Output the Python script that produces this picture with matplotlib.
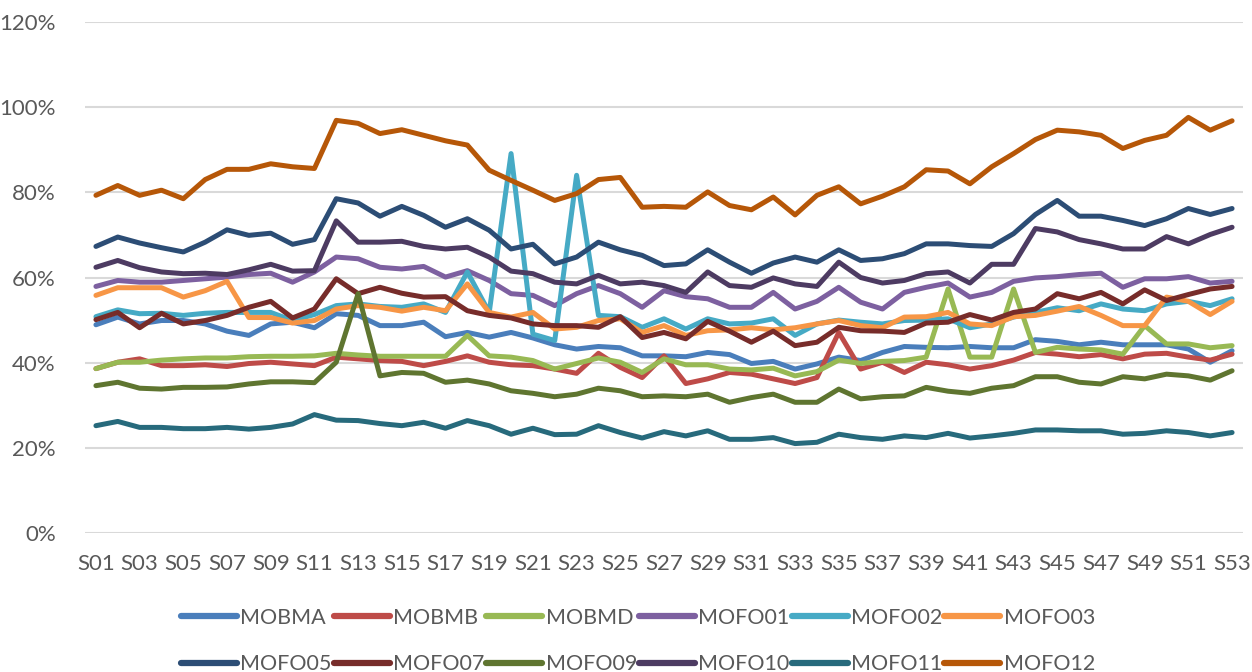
import matplotlib
matplotlib.use("Agg")
import matplotlib.pyplot as plt
from matplotlib.ticker import FuncFormatter

weeks = [f"S{i:02d}" for i in range(1, 54)]

mobma = [48.9, 50.7, 49.1, 49.9, 49.9, 49.1, 47.4, 46.4, 49.1, 49.5,
         48.2, 51.5, 51.1, 48.7, 48.7, 49.5, 46.1, 47.1, 46.0, 47.1,
         45.8, 44.2, 43.2, 43.8, 43.5, 41.6, 41.6, 41.4, 42.4, 41.9,
         39.8, 40.3, 38.5, 39.7, 41.3, 40.5, 42.4, 43.8, 43.6, 43.5,
         43.8, 43.5, 43.5, 45.4, 45.0, 44.2, 44.8, 44.2, 44.2, 44.2,
         43.2, 40.1, 42.8]
mobmb = [38.6, 40.1, 40.9, 39.3, 39.3, 39.5, 39.1, 39.8, 40.1, 39.7,
         39.3, 41.3, 40.9, 40.5, 40.3, 39.3, 40.3, 41.6, 40.1, 39.5,
         39.3, 38.5, 37.5, 42.2, 38.9, 36.5, 41.6, 35.1, 36.2, 37.7,
         37.3, 36.2, 35.1, 36.5, 47.1, 38.5, 40.1, 37.7, 40.1, 39.5,
         38.5, 39.3, 40.6, 42.4, 42.0, 41.4, 41.9, 40.9, 42.0, 42.2,
         41.3, 40.6, 42.0]
mobmd = [38.6, 40.1, 40.1, 40.6, 40.9, 41.1, 41.1, 41.4, 41.5, 41.5,
         41.6, 42.2, 41.8, 41.5, 41.5, 41.5, 41.5, 46.4, 41.6, 41.3,
         40.5, 38.5, 39.8, 41.1, 40.1, 37.7, 40.9, 39.5, 39.5, 38.5,
         38.3, 38.7, 36.9, 37.9, 40.6, 39.8, 40.3, 40.5, 41.3, 57.3,
         41.3, 41.3, 57.3, 42.4, 43.6, 43.2, 43.0, 42.0, 48.7, 44.4,
         44.4, 43.5, 44.0]
mofo01 = [57.9, 59.3, 58.9, 58.9, 59.3, 59.7, 60.1, 60.7, 61.0, 58.9,
          61.3, 64.8, 64.4, 62.4, 62.0, 62.6, 60.1, 61.6, 59.3, 56.2,
          55.8, 53.4, 56.2, 58.1, 56.2, 53.0, 56.9, 55.5, 55.0, 53.0,
          53.0, 56.5, 52.6, 54.4, 57.7, 54.2, 52.6, 56.5, 57.7, 58.7,
          55.4, 56.5, 59.1, 59.9, 60.2, 60.7, 61.0, 57.7, 59.7, 59.7,
          60.2, 58.7, 59.1]
mofo02 = [50.8, 52.4, 51.5, 51.6, 51.1, 51.6, 51.8, 51.8, 51.8, 49.9,
          51.3, 53.4, 53.8, 53.2, 53.0, 53.8, 51.8, 61.3, 51.8, 89.1,
          46.7, 45.2, 84.0, 51.1, 50.8, 48.3, 50.3, 47.9, 50.3, 49.1,
          49.3, 50.3, 46.4, 49.1, 50.0, 49.5, 49.1, 49.9, 50.0, 50.3,
          48.2, 49.1, 50.7, 51.8, 52.9, 52.2, 53.8, 52.6, 52.2, 53.8,
          54.4, 53.4, 55.0]
mofo03 = [55.8, 57.6, 57.6, 57.6, 55.4, 56.9, 59.1, 50.6, 50.6, 49.3,
          49.9, 52.6, 53.4, 53.0, 52.1, 53.0, 52.2, 58.5, 51.8, 50.7,
          51.8, 47.9, 48.3, 49.9, 50.3, 47.1, 48.7, 46.4, 47.5, 47.7,
          48.2, 47.7, 48.2, 49.1, 49.9, 48.7, 48.2, 50.7, 50.8, 51.8,
          49.1, 48.7, 50.8, 51.1, 52.1, 53.2, 51.1, 48.7, 48.7, 55.4,
          54.4, 51.3, 54.4]
mofo05 = [67.3, 69.5, 68.1, 67.0, 66.0, 68.3, 71.2, 69.9, 70.4, 67.8,
          68.9, 78.5, 77.5, 74.4, 76.7, 74.6, 71.8, 73.8, 71.1, 66.7,
          67.8, 63.2, 64.8, 68.3, 66.5, 65.2, 62.8, 63.2, 66.5, 63.6,
          61.0, 63.4, 64.8, 63.6, 66.5, 64.0, 64.4, 65.6, 67.9, 67.9,
          67.5, 67.3, 70.3, 74.8, 78.1, 74.4, 74.4, 73.4, 72.2, 73.8,
          76.2, 74.8, 76.2]
mofo07 = [50.1, 51.8, 48.2, 51.6, 49.1, 49.9, 51.1, 53.0, 54.4, 50.5,
          52.6, 59.7, 56.2, 57.7, 56.3, 55.4, 55.5, 52.2, 51.1, 50.5,
          49.1, 48.7, 48.7, 48.3, 50.8, 45.9, 47.1, 45.6, 49.7, 47.4,
          44.8, 47.4, 44.0, 44.8, 48.3, 47.5, 47.4, 47.1, 49.3, 49.5,
          51.3, 50.0, 51.8, 52.6, 56.2, 55.0, 56.5, 53.8, 57.1, 54.6,
          56.0, 57.3, 57.9]
mofo09 = [34.6, 35.4, 34.0, 33.8, 34.2, 34.2, 34.3, 35.0, 35.5, 35.5,
          35.3, 40.1, 56.2, 36.9, 37.7, 37.5, 35.4, 35.9, 35.0, 33.4,
          32.8, 32.0, 32.6, 34.0, 33.4, 32.0, 32.2, 32.0, 32.6, 30.7,
          31.8, 32.6, 30.7, 30.7, 33.8, 31.5, 32.0, 32.2, 34.2, 33.3,
          32.8, 34.0, 34.6, 36.7, 36.7, 35.4, 35.0, 36.7, 36.2, 37.3,
          36.9, 35.9, 38.1]
mofo10 = [62.4, 64.0, 62.3, 61.3, 60.9, 61.0, 60.7, 61.8, 63.1, 61.5,
          61.6, 73.3, 68.3, 68.3, 68.5, 67.3, 66.7, 67.1, 64.8, 61.5,
          60.9, 58.9, 58.5, 60.5, 58.5, 58.9, 58.1, 56.5, 61.3, 58.1,
          57.7, 59.9, 58.5, 57.9, 63.6, 60.0, 58.7, 59.3, 60.9, 61.3,
          58.7, 63.1, 63.1, 71.5, 70.7, 68.9, 67.9, 66.7, 66.7, 69.6,
          67.9, 70.1, 71.8]
mofo11 = [25.2, 26.2, 24.8, 24.8, 24.5, 24.5, 24.8, 24.4, 24.8, 25.6,
          27.8, 26.5, 26.4, 25.7, 25.2, 26.0, 24.6, 26.4, 25.2, 23.2,
          24.6, 23.1, 23.2, 25.2, 23.6, 22.3, 23.8, 22.8, 24.0, 22.0,
          22.0, 22.4, 21.0, 21.3, 23.2, 22.4, 22.0, 22.8, 22.4, 23.4,
          22.3, 22.8, 23.4, 24.2, 24.2, 24.0, 24.0, 23.2, 23.4, 24.0,
          23.6, 22.8, 23.6]
mofo12 = [79.3, 81.6, 79.3, 80.5, 78.5, 83.0, 85.4, 85.4, 86.7, 86.0,
          85.6, 96.9, 96.2, 93.8, 94.7, 93.4, 92.1, 91.1, 85.2, 82.8,
          80.5, 78.1, 79.7, 83.0, 83.5, 76.5, 76.7, 76.5, 80.1, 76.9,
          75.9, 78.9, 74.7, 79.3, 81.3, 77.3, 79.1, 81.3, 85.3, 85.0,
          82.0, 86.0, 89.1, 92.4, 94.6, 94.2, 93.4, 90.3, 92.2, 93.4,
          97.6, 94.6, 96.8]

series = [
    ("MOBMA", mobma, "#4a7ebb"),
    ("MOBMB", mobmb, "#be4b48"),
    ("MOBMD", mobmd, "#98b954"),
    ("MOFO01", mofo01, "#7d60a0"),
    ("MOFO02", mofo02, "#46aac5"),
    ("MOFO03", mofo03, "#f79646"),
    ("MOFO05", mofo05, "#2c4d75"),
    ("MOFO07", mofo07, "#772c2a"),
    ("MOFO09", mofo09, "#5f7530"),
    ("MOFO10", mofo10, "#4d3b62"),
    ("MOFO11", mofo11, "#276a7c"),
    ("MOFO12", mofo12, "#b65708"),
]

plt.rcParams["font.family"] = ["Lato", "DejaVu Sans"]

fig = plt.figure(figsize=(12.52, 6.72), dpi=100)
ax = fig.add_axes([85 / 1252, 1 - 533 / 672, 1158 / 1252, 511 / 672])

x = list(range(len(weeks)))
handles = []
for name, vals, col in series:
    h, = ax.plot(x, vals, color=col, lw=3.6, label=name,
                 solid_joinstyle="round", solid_capstyle="round")
    handles.append(h)

ax.set_xlim(-0.5, len(weeks) - 0.5)
ax.set_ylim(0, 120)
ax.set_yticks(range(0, 121, 20))
ax.yaxis.set_major_formatter(FuncFormatter(lambda v, _: f"{v:.0f}%"))
ax.set_xticks(x[::2])
ax.set_xticklabels(weeks[::2])
ax.tick_params(length=0, labelsize=16, colors="#595959")
ax.tick_params(axis="x", pad=15)
ax.tick_params(axis="y", pad=21)
ax.grid(axis="y", color="#d9d9d9", lw=1.5)
ax.set_axisbelow(True)
for s in ax.spines.values():
    s.set_visible(False)

# legend filled row by row like Excel
order = [0, 6, 1, 7, 2, 8, 3, 9, 4, 10, 5, 11]
leg = fig.legend([handles[i] for i in order], [series[i][0] for i in order],
                 ncol=6, loc="center", bbox_to_anchor=(638 / 1252, 1 - 641 / 672),
                 frameon=False, fontsize=15.5, labelcolor="#595959",
                 handlelength=2.6, handletextpad=0.15, columnspacing=0.1,
                 labelspacing=1.25)
for lh in leg.get_lines():
    lh.set_linewidth(4.5)

fig.savefig("out.png", dpi=100)
